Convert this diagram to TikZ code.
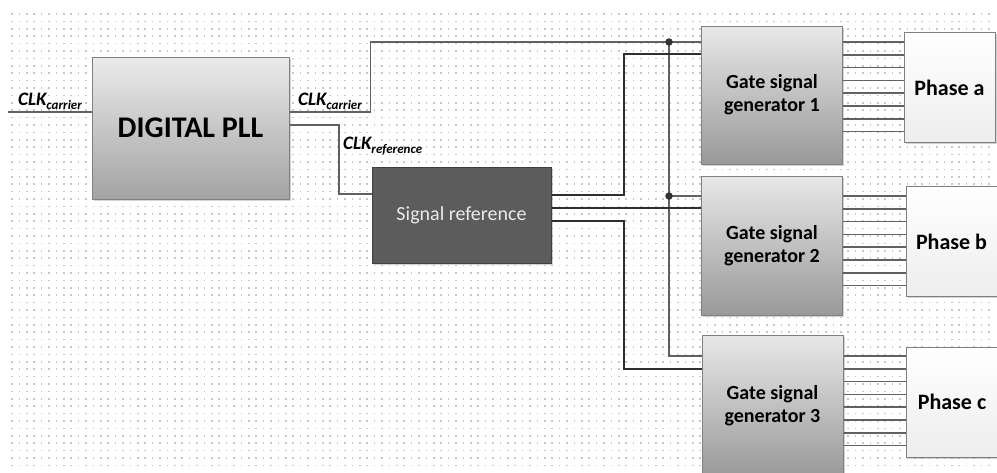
\documentclass[tikz,border=0pt]{standalone}
\usepackage{fontspec}
\setmainfont{Carlito}
\usetikzlibrary{shadows}
\tikzset{
  blk/.style={draw=black!50, line width=1pt, inner sep=0pt, align=center,
    drop shadow={shadow xshift=1.5pt, shadow yshift=-1.5pt, opacity=0.35}},
  pllbox/.style={blk, top color=black!8, bottom color=black!36, minimum width=197pt, minimum height=142pt,
    font=\bfseries\fontsize{30}{30}\selectfont},
  gatebox/.style={blk, top color=black!9, bottom color=black!40, minimum width=141pt, minimum height=138pt,
    font=\bfseries\fontsize{20}{23}\selectfont},
  phasebox/.style={blk, top color=white, bottom color=black!7, minimum width=91pt, minimum height=110pt,
    font=\bfseries\fontsize{22}{22}\selectfont},
  refbox/.style={blk, draw=black!75, fill=black!64, text=black!8, minimum width=179pt, minimum height=96pt,
    font=\fontsize{20}{20}\selectfont},
  wire/.style={draw=black!62, line width=1.5pt},
  bus/.style={draw=black!82, line width=2.8pt},
  joint/.style={circle, fill=black!80, inner sep=0pt, minimum size=7.5pt},
  clk/.style={inner sep=0pt, anchor=base west, font=\bfseries\itshape\fontsize{19}{19}\selectfont},
  gridrow/.style={draw=black!22, line width=1.6pt, dash pattern=on 1.6pt off 5.8pt}
}
\newcommand{\clkname}[1]{CLK\raisebox{-4pt}{\fontsize{13}{13}\selectfont #1}}
\begin{document}
\begin{tikzpicture}[x=1pt,y=-1pt]
    \clip (0,0) rectangle (997,472);
    \foreach \r [evaluate=\r as \yy using 14+7.4*\r] in {0,...,61}
        \draw[gridrow] (11.2,\yy) -- (993,\yy);

    \node[pllbox] (pll) at (190.5,128) {DIGITAL PLL};
    \node[refbox] (sref) at (461.5,215) {Signal reference};
    \node[gatebox] (g1) at (772,95) {Gate signal\\generator 1};
    \node[gatebox, minimum height=139pt] (g2) at (772,245.5) {Gate signal\\generator 2};
    \node[gatebox, minimum height=142pt] (g3) at (772.5,406) {Gate signal\\generator 3};
    \node[phasebox] (pa) at (949.5,87.5) {Phase a};
    \node[phasebox] (pb) at (951.5,241.5) {Phase b};
    \node[phasebox] (pc) at (952,402) {Phase c};

    \coordinate (clkin) at (8,112);
    \coordinate (j1) at (669,42);
    \coordinate (j2) at (669,196);

    \draw[wire] (clkin) -- (clkin -| pll.west);
    \draw[wire] (pll.east |- clkin) -- ++(81,0) |- (j1) -- (j1 -| g1.west);
    \draw[wire] (pll.east |- 0,125) -| (339,194) -- (sref.west |- 0,194);
    \draw[wire] (j1) |- (g3.west |- 0,356);
    \draw[wire] (j2) -- (j2 -| g2.west);

    \draw[bus] (sref.east |- 0,195) -| (624,54) -- (g1.west |- 0,54);
    \draw[bus] (sref.east |- 0,208) -- (g2.west |- 0,208);
    \draw[bus] (sref.east |- 0,221) -| (624,369) -- (g3.west |- 0,369);

    \node[joint] (d1) at (j1) {};
    \node[joint] (d2) at (j2) {};

    \foreach \g/\p/\y in {g1/pa/42, g2/pb/196, g3/pc/356}
        \foreach \i in {0,...,7}{
            \pgfmathsetmacro\yy{\y+12.8*\i}
            \draw[wire] (\g.east |- 0,\yy) -- (\p.west |- 0,\yy);
        }

    \node[clk] (lin) at (18,105) {\clkname{carrier}};
    \node[clk] (lcar) at (298,105) {\clkname{carrier}};
    \node[clk] (lref) at (343,149) {\clkname{reference}};
\end{tikzpicture}
\end{document}
